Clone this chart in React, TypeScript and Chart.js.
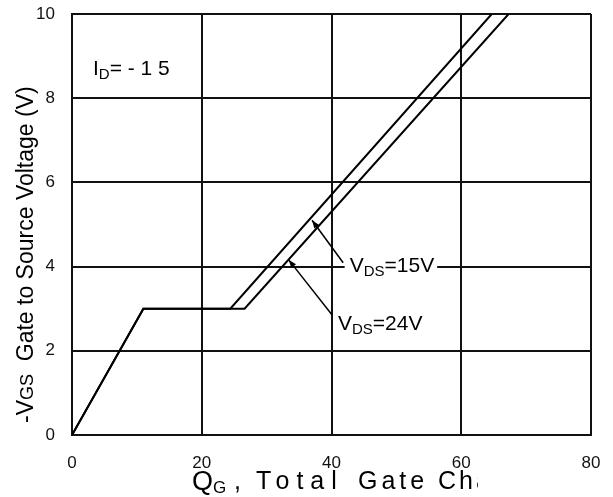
import React, { useEffect, useRef } from "react";
import { Chart, registerables } from "chart.js";

Chart.register(...registerables);

// Gate charge curves (Q_G in nC, -V_GS in V)
const QG_15V = [0, 11, 24.4, 64.7];
const VGS_15V = [0, 3, 3, 10];
const QG_24V = [0, 11, 26.6, 67.3];
const VGS_24V = [0, 3, 3, 10];

const X_TICKS = [0, 20, 40, 60, 80];
const Y_TICKS = [0, 2, 4, 6, 8, 10];

const FONT = "'Liberation Sans', Arial, sans-serif";

function toPoints(xs: number[], ys: number[]) {
  return xs.map((x, i) => ({ x, y: ys[i] }));
}

function arrow(ctx: CanvasRenderingContext2D, x0: number, y0: number, x1: number, y1: number) {
  ctx.beginPath();
  ctx.moveTo(x0, y0);
  ctx.lineTo(x1, y1);
  ctx.stroke();
  const a = Math.atan2(y1 - y0, x1 - x0);
  const len = 8;
  const w = 3;
  ctx.beginPath();
  ctx.moveTo(x1, y1);
  ctx.lineTo(x1 - len * Math.cos(a) + w * Math.sin(a), y1 - len * Math.sin(a) - w * Math.cos(a));
  ctx.lineTo(x1 - len * Math.cos(a) - w * Math.sin(a), y1 - len * Math.sin(a) + w * Math.cos(a));
  ctx.closePath();
  ctx.fill();
}

const annotPlugin = {
  id: "annot",
  afterDatasetsDraw(chart: any) {
    const ctx: CanvasRenderingContext2D = chart.ctx;
    const xs = chart.scales.x;
    const ys = chart.scales.y;
    const px = (v: number) => xs.getPixelForValue(v);
    const py = (v: number) => ys.getPixelForValue(v);
    ctx.save();
    ctx.fillStyle = "#000";
    ctx.strokeStyle = "#000";
    ctx.lineWidth = 1.5;
    ctx.textBaseline = "alphabetic";
    ctx.textAlign = "left";

    // VDS=15V label with white backing
    const l15x = px(42.8);
    const l15y = py(3.87);
    ctx.font = `21px ${FONT}`;
    let w = ctx.measureText("V").width;
    ctx.font = `15px ${FONT}`;
    w += ctx.measureText("DS").width;
    ctx.font = `21px ${FONT}`;
    w += ctx.measureText("=15V").width;
    ctx.fillStyle = "#fff";
    ctx.fillRect(l15x - 5, l15y - 18, w + 8, 24);
    ctx.fillStyle = "#000";
    const drawVds = (x: number, y: number, val: string) => {
      ctx.font = `21px ${FONT}`;
      ctx.fillText("V", x, y);
      let cx = x + ctx.measureText("V").width;
      ctx.font = `15px ${FONT}`;
      ctx.fillText("DS", cx, y + 4);
      cx += ctx.measureText("DS").width;
      ctx.font = `21px ${FONT}`;
      ctx.fillText(val, cx, y);
    };
    drawVds(l15x, l15y, "=15V");
    drawVds(px(41.0), py(2.49), "=24V");

    arrow(ctx, px(41.8), py(4.09), px(37.0), py(5.1));
    arrow(ctx, px(40.1), py(2.85), px(33.4), py(4.16));

    // I_D label
    const ix = 93;
    const iy = 75;
    ctx.font = `21px ${FONT}`;
    ctx.fillText("I", ix, iy);
    let cx = ix + ctx.measureText("I").width;
    ctx.font = `15px ${FONT}`;
    ctx.fillText("D", cx, iy + 4);
    cx += ctx.measureText("D").width;
    ctx.font = `21px ${FONT}`;
    ctx.fillText("= - 1 5", cx, iy);

    // Y axis title (rotated)
    ctx.save();
    ctx.translate(33, 423);
    ctx.rotate(-Math.PI / 2);
    ctx.font = `23px ${FONT}`;
    ctx.fillText("-V", 0, 0);
    let tx = ctx.measureText("-V").width;
    ctx.font = `18px ${FONT}`;
    ctx.fillText("GS", tx, 0);
    tx += ctx.measureText("GS").width;
    ctx.font = `23px ${FONT}`;
    ctx.fillText("  Gate to Source Voltage (V)", tx, 0);
    ctx.restore();

    // X axis title (cut at the right as in the source)
    ctx.save();
    ctx.beginPath();
    ctx.rect(0, 440, 478, 57);
    ctx.clip();
    ctx.font = `27px ${FONT}`;
    ctx.fillText("Q", 192, 490);
    ctx.font = `17px ${FONT}`;
    ctx.fillText("G", 213, 493);
    ctx.font = `25px ${FONT}`;
    ctx.fillText(",", 234, 489);
    (ctx as any).letterSpacing = "7px";
    ctx.fillText("Total", 256, 489);
    (ctx as any).letterSpacing = "4px";
    ctx.fillText("Gate", 358, 489);
    (ctx as any).letterSpacing = "3px";
    ctx.fillText("Charge (nC)", 438, 489);
    ctx.restore();

    ctx.restore();
  },
};

function zeroPad(s: any) {
  s.paddingLeft = 0;
  s.paddingRight = 0;
  s.paddingTop = 0;
  s.paddingBottom = 0;
}

export default function App() {
  const ref = useRef<HTMLCanvasElement | null>(null);
  useEffect(() => {
    if (!ref.current) return;
    const chart = new Chart(ref.current, {
      type: "scatter",
      data: {
        datasets: [
          {
            label: "VDS=15V",
            data: toPoints(QG_15V, VGS_15V),
            showLine: true,
            borderColor: "#000",
            borderWidth: 2,
            pointRadius: 0,
            tension: 0,
          },
          {
            label: "VDS=24V",
            data: toPoints(QG_24V, VGS_24V),
            showLine: true,
            borderColor: "#000",
            borderWidth: 2,
            pointRadius: 0,
            tension: 0,
          },
        ],
      },
      options: {
        responsive: false,
        animation: false,
        devicePixelRatio: 1,
        layout: { padding: { left: 0, top: 14, right: 22, bottom: 0 } },
        plugins: { legend: { display: false }, tooltip: { enabled: false } },
        scales: {
          x: {
            type: "linear",
            min: 0,
            max: 80,
            afterBuildTicks: (s: any) => {
              s.ticks = X_TICKS.map((v) => ({ value: v }));
            },
            afterFit: (s: any) => {
              s.height = 62;
              zeroPad(s);
            },
            ticks: {
              color: "#111",
              font: { family: FONT, size: 17 },
              padding: 18,
              maxRotation: 0,
            },
            grid: { color: "#111", lineWidth: 2, drawTicks: false },
            border: { color: "#111", width: 2 },
          },
          y: {
            type: "linear",
            min: 0,
            max: 10,
            afterBuildTicks: (s: any) => {
              s.ticks = Y_TICKS.map((v) => ({ value: v }));
            },
            afterFit: (s: any) => {
              s.width = 72;
              zeroPad(s);
            },
            ticks: {
              color: "#111",
              font: { family: FONT, size: 17 },
              padding: 17,
            },
            grid: { color: "#111", lineWidth: 2, drawTicks: false },
            border: { color: "#111", width: 2 },
          },
        },
      },
      plugins: [annotPlugin],
    });
    return () => chart.destroy();
  }, []);
  return (
    <div style={{ position: "fixed", left: 0, top: 0, width: 613, height: 497, background: "#fff" }}>
      <canvas ref={ref} width={613} height={497} style={{ width: 613, height: 497 }} />
    </div>
  );
}
